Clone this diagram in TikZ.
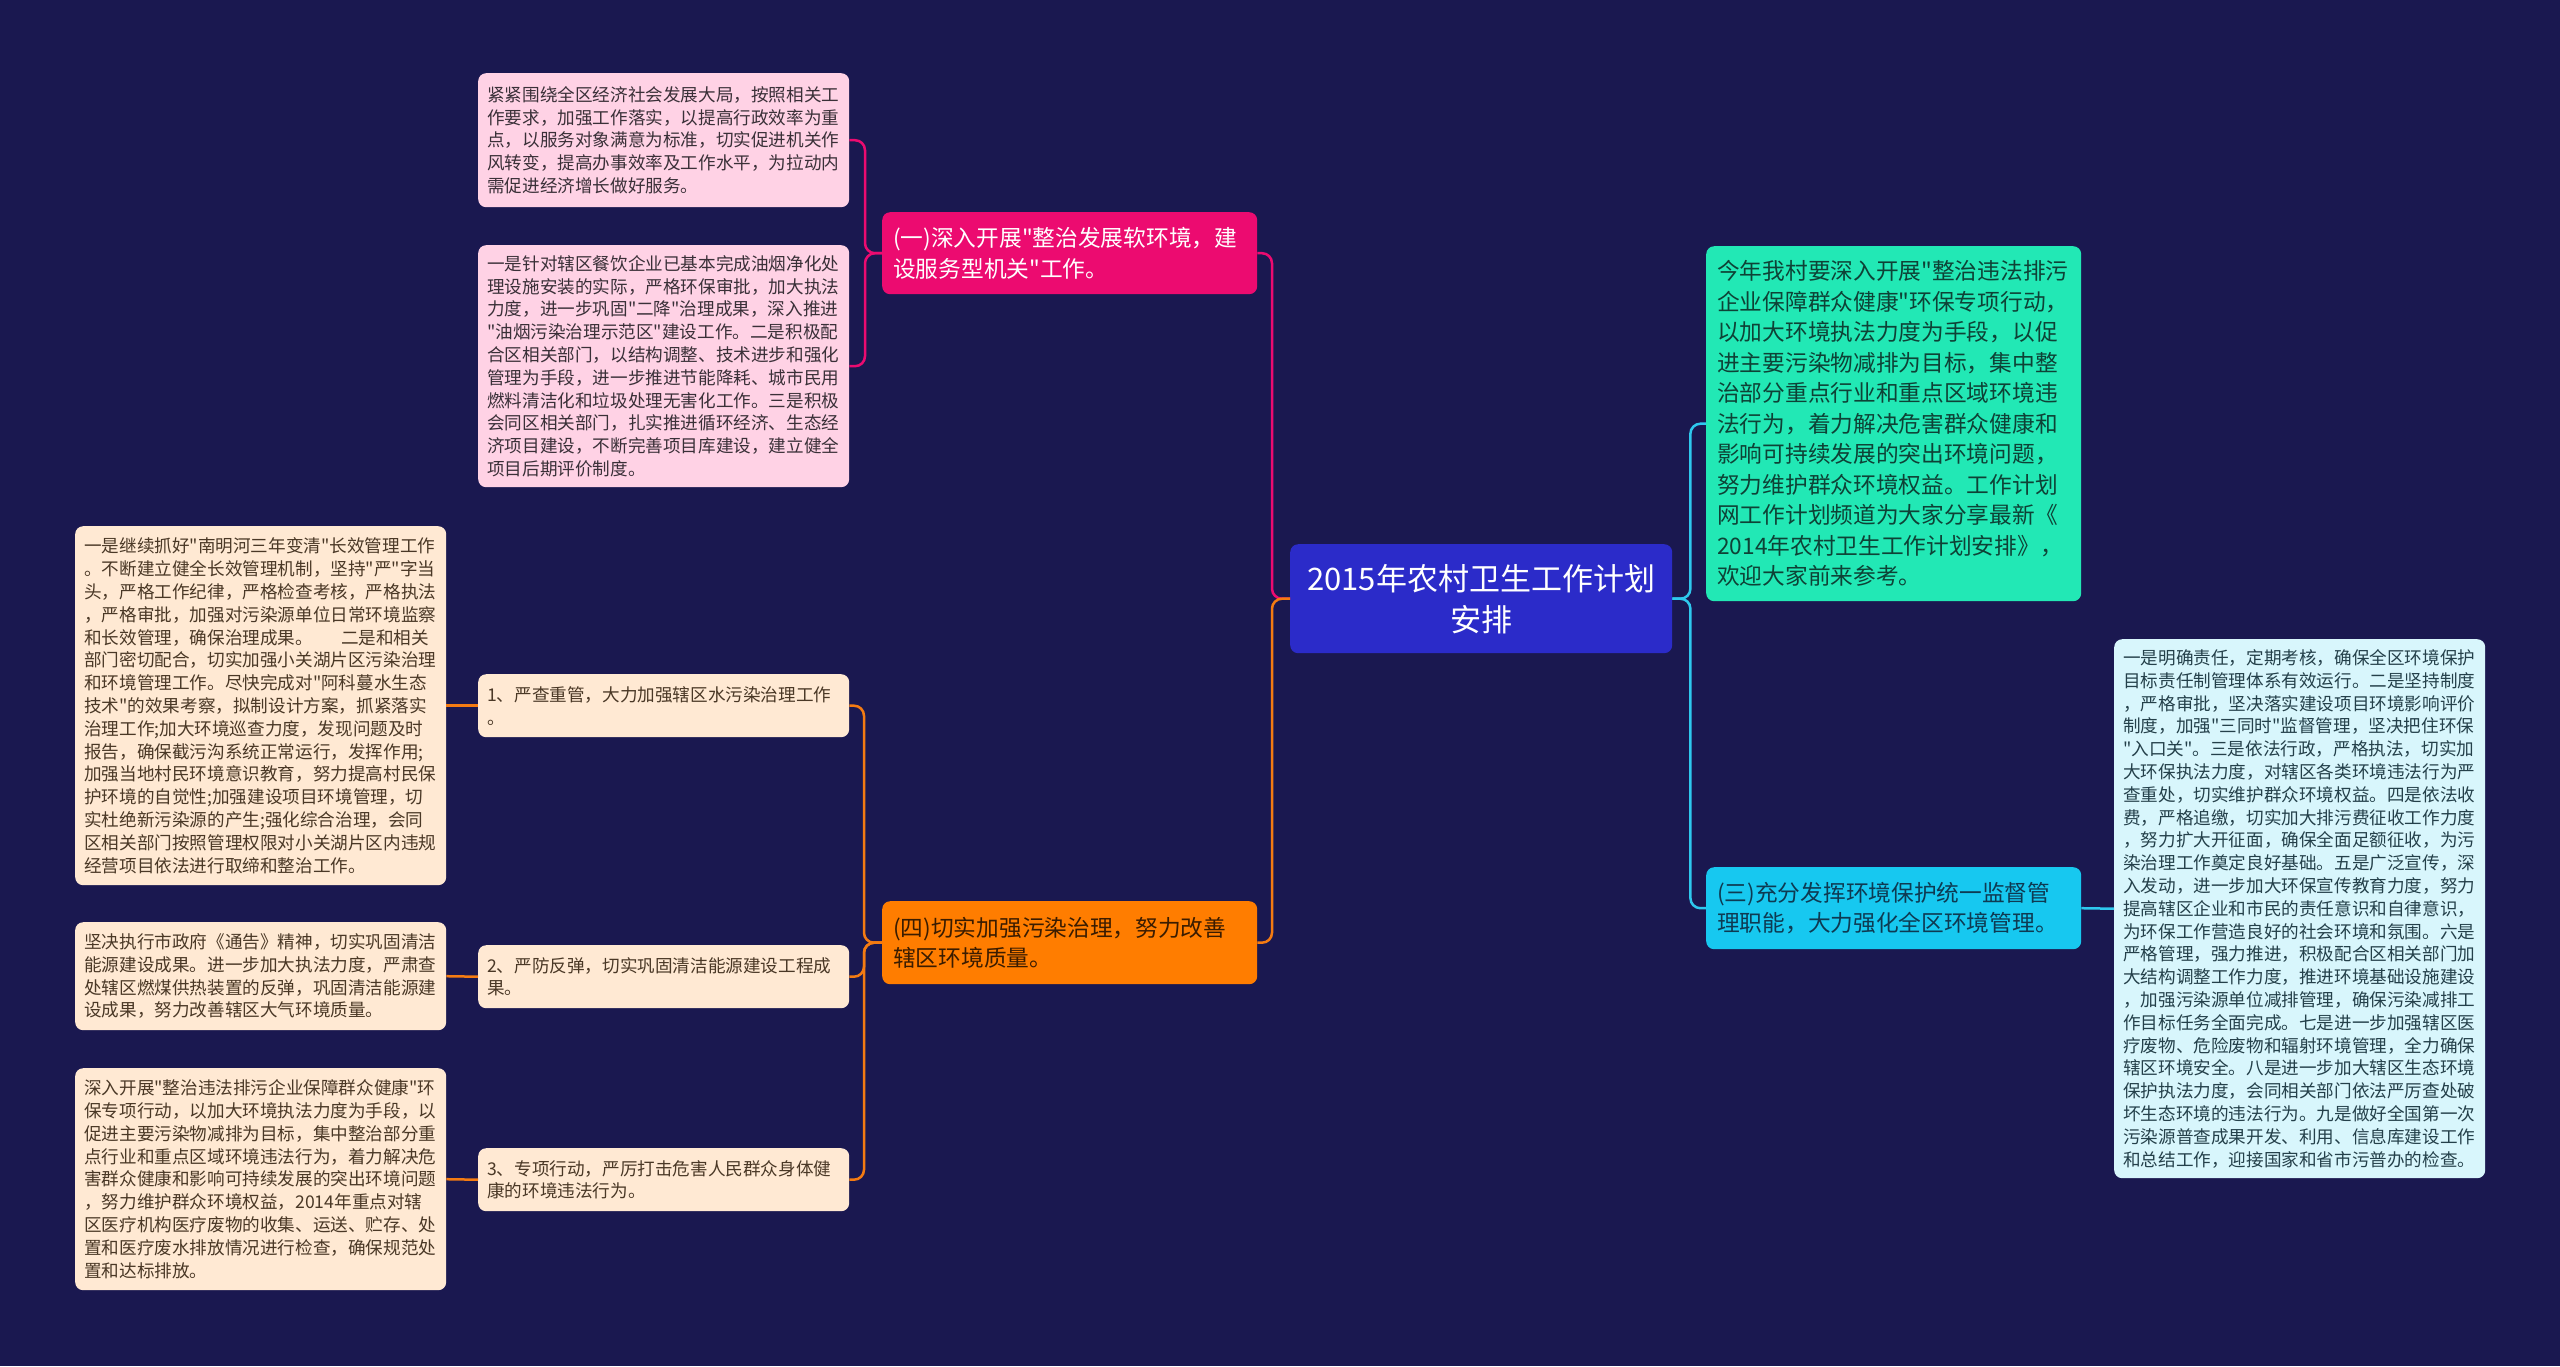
\documentclass[tikz,border=0pt]{standalone}
\usepackage{fontspec}
\newfontfamily\cjk{Noto Sans CJK SC}
\definecolor{bgc}{HTML}{1A1850}
\definecolor{centerc}{HTML}{2B2BC9}
\definecolor{pinkh}{HTML}{EC0B70}
\definecolor{pinkl}{HTML}{FFD2E5}
\definecolor{orangeh}{HTML}{FF7D00}
\definecolor{peach}{HTML}{FFE9D3}
\definecolor{greenh}{HTML}{22E8B5}
\definecolor{cyanh}{HTML}{17C8F0}
\definecolor{cyanl}{HTML}{D8F6FC}
\definecolor{cyanline}{HTML}{2EC8EE}
\definecolor{orangeline}{HTML}{F47B12}
\definecolor{txtpink}{HTML}{3A3038}
\definecolor{txtpeach}{HTML}{4A3826}
\definecolor{txtcyan}{HTML}{24404A}
\definecolor{txtgreen}{HTML}{0E4236}
\definecolor{txtcyanh}{HTML}{0E3A52}
\definecolor{txtorange}{HTML}{3A1C00}
\begin{document}
\begin{tikzpicture}[x=1pt,y=-1pt,
  box/.style={anchor=north west, inner ysep=0pt, rounded corners=8pt},
  small/.style={box, font=\cjk\fontsize{17.6pt}{22.8pt}\selectfont, inner xsep=9pt, text width=353pt, align=left},
  big/.style={box, font=\cjk\fontsize{22.7pt}{30.5pt}\selectfont, inner xsep=11pt, text width=353pt, align=left},
  pinkbox/.style={small, fill=pinkl, text=txtpink},
  peachbox/.style={small, fill=peach, text=txtpeach},
  cyanbox/.style={small, fill=cyanl, text=txtcyan},
  pinkc/.style={draw=pinkh, line width=2.5pt, rounded corners=10pt},
  orc/.style={draw=orangeline, line width=2.5pt, rounded corners=10pt},
  cyc/.style={draw=cyanline, line width=2.5pt, rounded corners=10pt}
]
\useasboundingbox (0,0) rectangle (2560,1366);
\fill[bgc] (0,0) rectangle (2560,1366);

% center
\node[box, fill=centerc, text=white, minimum width=382pt, minimum height=109pt, align=center,
  font=\cjk\fontsize{31pt}{41pt}\selectfont] (C) at (1290,544) {2015年农村卫生工作计划\\安排};

% headers
\node[big, fill=pinkh, text=white, minimum height=82pt] (H1) at (882,212)
 {(一)深入开展"整治发展软环境，建\\设服务型机关"工作。};
\node[big, fill=orangeh, text=txtorange, minimum height=83pt] (H4) at (882,901)
 {(四)切实加强污染治理，努力改善\\辖区环境质量。};
\node[big, fill=greenh, text=txtgreen, minimum height=355pt] (G) at (1706,246)
 {今年我村要深入开展"整治违法排污\\企业保障群众健康"环保专项行动，\\以加大环境执法力度为手段，以促\\进主要污染物减排为目标，集中整\\治部分重点行业和重点区域环境违\\法行为，着力解决危害群众健康和\\影响可持续发展的突出环境问题，\\努力维护群众环境权益。工作计划\\网工作计划频道为大家分享最新《\\2014年农村卫生工作计划安排》，\\欢迎大家前来参考。};
\node[big, fill=cyanh, text=txtcyanh, minimum height=82pt] (H3) at (1706,867)
 {(三)充分发挥环境保护统一监督管\\理职能，大力强化全区环境管理。};

% pink boxes
\node[pinkbox, minimum height=134pt] (P1) at (478,73)
 {紧紧围绕全区经济社会发展大局，按照相关工\\作要求，加强工作落实，以提高行政效率为重\\点，以服务对象满意为标准，切实促进机关作\\风转变，提高办事效率及工作水平，为拉动内\\需促进经济增长做好服务。};
\node[pinkbox, minimum height=242pt] (P2) at (478,245)
 {一是针对辖区餐饮企业已基本完成油烟净化处\\理设施安装的实际，严格环保审批，加大执法\\力度，进一步巩固"二降"治理成果，深入推进\\"油烟污染治理示范区"建设工作。二是积极配\\合区相关部门，以结构调整、技术进步和强化\\管理为手段，进一步推进节能降耗、城市民用\\燃料清洁化和垃圾处理无害化工作。三是积极\\会同区相关部门，扎实推进循环经济、生态经\\济项目建设，不断完善项目库建设，建立健全\\项目后期评价制度。};

% middle peach boxes
\node[peachbox, minimum height=63pt] (M1) at (478,674)
 {1、严查重管，大力加强辖区水污染治理工作\\。};
\node[peachbox, minimum height=63pt] (M2) at (478,945)
 {2、严防反弹，切实巩固清洁能源建设工程成\\果。};
\node[peachbox, minimum height=63pt] (M3) at (478,1148)
 {3、专项行动，严厉打击危害人民群众身体健\\康的环境违法行为。};

% left peach boxes
\node[peachbox, minimum height=359pt] (L1) at (75,526)
 {一是继续抓好"南明河三年变清"长效管理工作\\。不断建立健全长效管理机制，坚持"严"字当\\头，严格工作纪律，严格检查考核，严格执法\\，严格审批，加强对污染源单位日常环境监察\\和长效管理，确保治理成果。\hspace{1.6em}二是和相关\\部门密切配合，切实加强小关湖片区污染治理\\和环境管理工作。尽快完成对"阿科蔓水生态\\技术"的效果考察，拟制设计方案，抓紧落实\\治理工作;加大环境巡查力度，发现问题及时\\报告，确保截污沟系统正常运行，发挥作用;\\加强当地村民环境意识教育，努力提高村民保\\护环境的自觉性;加强建设项目环境管理，切\\实杜绝新污染源的产生;强化综合治理，会同\\区相关部门按照管理权限对小关湖片区内违规\\经营项目依法进行取缔和整治工作。};
\node[peachbox, minimum height=108pt] (L2) at (75,922)
 {坚决执行市政府《通告》精神，切实巩固清洁\\能源建设成果。进一步加大执法力度，严肃查\\处辖区燃煤供热装置的反弹，巩固清洁能源建\\设成果，努力改善辖区大气环境质量。};
\node[peachbox, minimum height=222pt] (L3) at (75,1068)
 {深入开展"整治违法排污企业保障群众健康"环\\保专项行动，以加大环境执法力度为手段，以\\促进主要污染物减排为目标，集中整治部分重\\点行业和重点区域环境违法行为，着力解决危\\害群众健康和影响可持续发展的突出环境问题\\，努力维护群众环境权益，2014年重点对辖\\区医疗机构医疗废物的收集、运送、贮存、处\\置和医疗废水排放情况进行检查，确保规范处\\置和达标排放。};

% right big box
\node[cyanbox, minimum height=539pt] (R) at (2114,639)
 {一是明确责任，定期考核，确保全区环境保护\\目标责任制管理体系有效运行。二是坚持制度\\，严格审批，坚决落实建设项目环境影响评价\\制度，加强"三同时"监督管理，坚决把住环保\\"入口关"。三是依法行政，严格执法，切实加\\大环保执法力度，对辖区各类环境违法行为严\\查重处，切实维护群众环境权益。四是依法收\\费，严格追缴，切实加大排污费征收工作力度\\，努力扩大开征面，确保全面足额征收，为污\\染治理工作奠定良好基础。五是广泛宣传，深\\入发动，进一步加大环保宣传教育力度，努力\\提高辖区企业和市民的责任意识和自律意识，\\为环保工作营造良好的社会环境和氛围。六是\\严格管理，强力推进，积极配合区相关部门加\\大结构调整工作力度，推进环境基础设施建设\\，加强污染源单位减排管理，确保污染减排工\\作目标任务全面完成。七是进一步加强辖区医\\疗废物、危险废物和辐射环境管理，全力确保\\辖区环境安全。八是进一步加大辖区生态环境\\保护执法力度，会同相关部门依法严厉查处破\\坏生态环境的违法行为。九是做好全国第一次\\污染源普查成果开发、利用、信息库建设工作\\和总结工作，迎接国家和省市污普办的检查。};

% connectors
\draw[pinkc] (C.west) -- ++(-18,0) |- (H1.east);
\draw[orc] (C.west) -- ++(-18,0) |- (H4.east);
\draw[pinkc] (H1.west) -- ++(-17,0) |- (P1.east);
\draw[pinkc] (H1.west) -- ++(-17,0) |- (P2.east);
\draw[orc] (H4.west) -- ++(-18,0) |- (M1.east);
\draw[orc] (H4.west) -- ++(-18,0) |- (M2.east);
\draw[orc] (H4.west) -- ++(-18,0) |- (M3.east);
\draw[orc] (M1.west) -- (L1.east);
\draw[orc] (M2.west) -- (L2.east);
\draw[orc] (M3.west) -- (L3.east);
\draw[cyc] (C.east) -- ++(18,0) |- (G.west);
\draw[cyc] (C.east) -- ++(18,0) |- (H3.west);
\draw[cyc] (H3.east) -- (R.west);
\end{tikzpicture}
\end{document}
